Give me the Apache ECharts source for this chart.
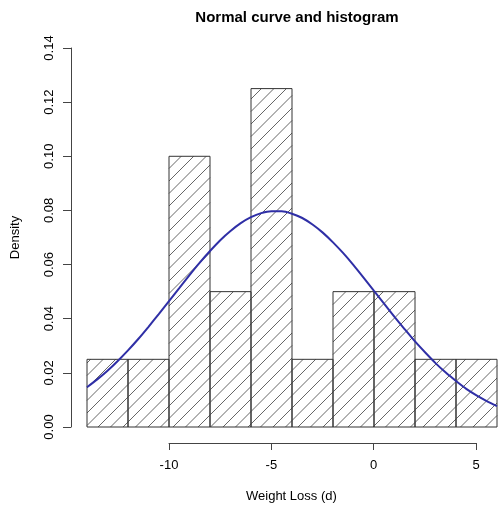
<!DOCTYPE html>
<html>
<head>
<meta charset="utf-8">
<script src="https://cdn.jsdelivr.net/npm/echarts@6/dist/echarts.min.js"></script>
<style>
  html, body { margin: 0; padding: 0; background: #fff; }
  #chart { width: 499px; height: 509px; }
</style>
</head>
<body>
<div id="chart"></div>
<script>
// histogram bins (width 2) and their densities
const binStart = [-14, -12, -10, -8, -6, -4, -2, 0, 2, 4];
const binEnd = [-12, -10, -8, -6, -4, -2, 0, 2, 4, 6];
const density = [0.025, 0.025, 0.1, 0.05, 0.125, 0.025, 0.05, 0.05, 0.025, 0.025];

// normal curve
const curveX = [-14, -13.5, -13, -12.5, -12, -11.5, -11, -10.5, -10, -9.5, -9, -8.5, -8, -7.5, -7, -6.5,
  -6, -5.5, -5, -4.5, -4, -3.5, -3, -2.5, -2, -1.5, -1, -0.5, 0, 0.5, 1, 1.5, 2, 2.5, 3, 3.5, 4, 4.5,
  5, 5.5, 6];
const curveY = [0.0147, 0.0176, 0.0208, 0.0244, 0.0283, 0.0325, 0.0370, 0.0417, 0.0465, 0.0513, 0.0561,
  0.0607, 0.0650, 0.0690, 0.0724, 0.0753, 0.0775, 0.0790, 0.0797, 0.0797, 0.0788, 0.0772, 0.0748,
  0.0718, 0.0682, 0.0642, 0.0598, 0.0551, 0.0503, 0.0455, 0.0407, 0.0361, 0.0316, 0.0275, 0.0236,
  0.0201, 0.0170, 0.0141, 0.0117, 0.0096, 0.0077];

const xTickMin = -10;
const xTickMax = 5;

const FONT = 'Liberation Sans, Arial, Helvetica, sans-serif';

const myChart = echarts.init(document.getElementById('chart'));

function renderItem(params, api) {
  const p0 = api.coord([api.value(0), api.value(2)]);
  const p1 = api.coord([api.value(1), 0]);
  const left = p0[0];
  const top = p0[1];
  const right = p1[0];
  const bottom = p1[1];
  const children = [];
  // "///" hatching, clipped to the bar by hand
  const s = 12.5;
  for (let c = Math.ceil((left + top) / s) * s; c < right + bottom; c += s) {
    const xa = Math.max(left, c - bottom);
    const xb = Math.min(right, c - top);
    if (xb > xa) {
      children.push({
        type: 'line',
        shape: { x1: xa, y1: c - xa, x2: xb, y2: c - xb },
        style: { stroke: '#555', lineWidth: 0.9 },
      });
    }
  }
  children.push({
    type: 'rect',
    shape: { x: left, y: top, width: right - left, height: bottom - top },
    style: { fill: 'none', stroke: '#333', lineWidth: 1 },
  });
  return { type: 'group', children };
}

const option = {
  backgroundColor: '#fff',
  animation: false,
  title: {
    text: 'Normal curve and histogram',
    left: 292,
    textAlign: 'center',
    top: 5,
    textStyle: { fontFamily: FONT, fontSize: 15, fontWeight: 'bold', color: '#000' },
  },
  graphic: [{
    type: 'text',
    left: 246,
    top: 490,
    style: { text: 'Weight Loss (d)', font: '13px ' + FONT, fill: '#000' },
  }],
  grid: [
    { left: 87, right: 2, top: 48, bottom: 82 },
    { left: 169, right: 23, top: 48, bottom: 82 },
  ],
  xAxis: [
    { type: 'value', gridIndex: 0, min: -14, max: 6, show: false },
    {
      type: 'value',
      gridIndex: 1,
      min: xTickMin,
      max: xTickMax,
      interval: 5,
      offset: 16,
      axisLine: { show: true, onZero: false, lineStyle: { color: '#444', width: 1 } },
      axisTick: { show: true, length: 7, lineStyle: { color: '#444' } },
      axisLabel: { fontFamily: FONT, fontSize: 13, color: '#000', margin: 16 },
      splitLine: { show: false },
    },
  ],
  yAxis: [
    {
      type: 'value',
      gridIndex: 0,
      min: 0,
      max: 0.14,
      interval: 0.02,
      offset: 16,
      name: 'Density',
      nameLocation: 'middle',
      nameGap: 49,
      nameTextStyle: { fontFamily: FONT, fontSize: 13, color: '#000' },
      axisLine: { show: true, onZero: false, lineStyle: { color: '#444', width: 1 } },
      axisTick: { show: true, length: 8, lineStyle: { color: '#444' } },
      axisLabel: {
        fontFamily: FONT, fontSize: 13, color: '#000', rotate: 90, margin: 15,
        formatter: (v) => v.toFixed(2),
      },
      splitLine: { show: false },
    },
    { type: 'value', gridIndex: 1, min: 0, max: 0.14, show: false },
  ],
  series: [
    {
      type: 'custom',
      xAxisIndex: 0,
      yAxisIndex: 0,
      renderItem,
      encode: { x: [0, 1], y: 2 },
      data: binStart.map((b, i) => [b, binEnd[i], density[i]]),
      z: 1,
    },
    {
      type: 'line',
      xAxisIndex: 0,
      yAxisIndex: 0,
      smooth: 0.2,
      showSymbol: false,
      data: curveX.map((x, i) => [x, curveY[i]]),
      lineStyle: { color: '#2f2fa6', width: 2 },
      z: 3,
    },
  ],
};

myChart.setOption(option);
</script>
</body>
</html>
